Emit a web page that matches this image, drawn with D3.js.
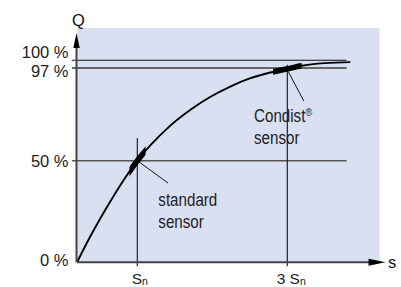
<!DOCTYPE html>
<html><head><meta charset="utf-8">
<script src="https://cdn.jsdelivr.net/npm/d3@7"></script>
<style>
html,body{margin:0;padding:0;background:#fff;}
svg{display:block;}
</style></head>
<body>
<svg id="chart" width="401" height="287"></svg>
<script>
// ---- data ----
const sValues = [0, 0.2, 0.4, 0.6, 0.8, 1.0, 1.17, 1.44, 1.70, 1.97, 2.24, 2.50, 2.76, 2.99, 3.19, 3.5, 3.84];
const qValues = [0, 11.6, 22.3, 32.3, 41.6, 50.0, 57.6, 67.8, 75.6, 82.3, 87.6, 91.7, 94.6, 96.5, 97.9, 98.9, 99.3];
const yTickValues = [0, 50, 97, 100];
const yTickLabels = ["0 %", "50 %", "97 %", "100 %"];
const xTickValues = [1, 3];
const xTickPrefix = ["", "3 "];
const xTickMain = "S";
const xTickSub = "n";
const refLines = [100, 97, 50];
const standardRange = [0.87, 1.11];
const condistRange = [2.81, 3.19];
const standardLeader = [[1.0, 50], [1.41, 39]];
const condistLeader = [[2.99, 96.8], [3.22, 80.3]];
const standardLabel = ["standard", "sensor"];
const condistLabel = ["Condist", "®", "sensor"];
const axisLabelY = "Q";
const axisLabelX = "s";
const sMax = 4.31;   // x-axis arrow tip
const sBgMax = 4.23; // background right edge
const sRefMax = 3.79; // reference lines right end
const qBgMax = 112.6; // background top

// ---- layout ----
const svg = d3.select("#chart");
const x = d3.scaleLinear().domain([0, 1, 3]).range([77, 137.3, 287.3]);
const y = d3.scaleLinear().domain([0, 50, 97, 100]).range([262.3, 160.7, 68, 60.3]);
const font = "'Liberation Sans', Arial, Helvetica, sans-serif";
const narrowScale = 0.82;

// background
svg.append("rect")
  .attr("x", x(0)).attr("y", y(qBgMax))
  .attr("width", x(sBgMax) - x(0)).attr("height", y(0) - y(qBgMax))
  .attr("fill", "#d8e0f2");

// reference lines
const refStyle = {100: ["#111", 1.1], 97: ["#666", 2], 50: ["#555", 1.5]};
refLines.forEach(q => {
  svg.append("line")
    .attr("x1", x(0) - 5).attr("x2", x(sRefMax))
    .attr("y1", y(q)).attr("y2", y(q))
    .attr("stroke", refStyle[q][0]).attr("stroke-width", refStyle[q][1]);
});

// vertical lines at Sn and 3Sn
svg.append("line").attr("x1", x(1)).attr("x2", x(1))
  .attr("y1", y(61.5)).attr("y2", y(0) + 4)
  .attr("stroke", "#111").attr("stroke-width", 1.1);
svg.append("line").attr("x1", x(3)).attr("x2", x(3))
  .attr("y1", y(98.3)).attr("y2", y(0) + 4)
  .attr("stroke", "#111").attr("stroke-width", 1.1);

// curve
const pts = sValues.map((s, i) => [s, qValues[i]]);
const line = d3.line().x(d => x(d[0])).y(d => y(d[1])).curve(d3.curveMonotoneX);
svg.append("path").attr("d", line(pts))
  .attr("fill", "none").attr("stroke", "#000").attr("stroke-width", 1.9);

// thick highlight segments via clip
const defs = svg.append("defs");
[["clipStd", standardRange], ["clipCon", condistRange]].forEach(([id, r]) => {
  defs.append("clipPath").attr("id", id).append("rect")
    .attr("x", x(r[0])).attr("y", 0).attr("width", x(r[1]) - x(r[0])).attr("height", 287);
  svg.append("path").attr("d", line(pts))
    .attr("fill", "none").attr("stroke", "#000").attr("stroke-width", 5.5)
    .attr("clip-path", `url(#${id})`);
});

// leader lines
[standardLeader, condistLeader].forEach(l => {
  svg.append("line")
    .attr("x1", x(l[0][0])).attr("y1", y(l[0][1]))
    .attr("x2", x(l[1][0])).attr("y2", y(l[1][1]))
    .attr("stroke", "#111").attr("stroke-width", 1);
});

// axes
svg.append("line").attr("x1", x(0)).attr("x2", x(sMax) - 12)
  .attr("y1", y(0)).attr("y2", y(0)).attr("stroke", "#444").attr("stroke-width", 2);
svg.append("path")
  .attr("d", `M${x(sMax)},${y(0)} L${x(sMax) - 17},${y(0) - 3.5} L${x(sMax) - 17},${y(0) + 3.5} Z`)
  .attr("fill", "#000");
svg.append("line").attr("x1", x(0) - 0.5).attr("x2", x(0) - 0.5)
  .attr("y1", y(0)).attr("y2", 46).attr("stroke", "#444").attr("stroke-width", 2);
svg.append("path")
  .attr("d", `M${x(0) - 0.5},33 L${x(0) - 3.7},48 L${x(0) + 2.7},48 Z`)
  .attr("fill", "#000");

// axis labels
svg.append("text").attr("x", x(0) + 1.5).attr("y", 25.8)
  .attr("text-anchor", "middle").attr("font-family", font).attr("font-size", 16.5)
  .attr("fill", "#111").text(axisLabelY);
svg.append("text").attr("x", x(sMax) + 2.5).attr("y", 267.5)
  .attr("font-family", font).attr("font-size", 16.5)
  .attr("fill", "#111").text(axisLabelX);

// y tick labels
const yLabelDy = {0: 3.5, 50: 6, 97: 9.2, 100: -2};
yTickValues.forEach((v, i) => {
  svg.append("text").attr("x", 68.5).attr("y", y(v) + yLabelDy[v])
    .attr("text-anchor", "end").attr("font-family", font).attr("font-size", 16.5)
    .attr("fill", "#222").text(yTickLabels[i]);
});

// x tick labels
const xLabelDx = {1: -5.6, 3: -10.6};
xTickValues.forEach((v, i) => {
  const t = svg.append("text").attr("x", x(v) + xLabelDx[v]).attr("y", 283.5)
    .attr("font-family", font).attr("font-size", 15.5).attr("fill", "#222");
  t.append("tspan").text(xTickPrefix[i] + xTickMain);
  t.append("tspan").attr("font-size", 10.5).attr("dy", 1.8).text(xTickSub);
});

// annotations (condensed via horizontal scaling)
function narrowText(px, py, parts) {
  const t = svg.append("text")
    .attr("transform", `translate(${px},${py}) scale(${narrowScale},1)`)
    .attr("font-family", font).attr("font-size", 18.5).attr("fill", "#222");
  parts.forEach(p => {
    const s = t.append("tspan").text(p.text);
    if (p.small) s.attr("font-size", 11).attr("dy", -6);
  });
  return t;
}
narrowText(158.3, 205.8, [{text: standardLabel[0]}]);
narrowText(158.3, 228.3, [{text: standardLabel[1]}]);
narrowText(254, 121.7, [{text: condistLabel[0]}, {text: condistLabel[1], small: true}]);
narrowText(254, 144.2, [{text: condistLabel[2]}]);
</script>
</body></html>
